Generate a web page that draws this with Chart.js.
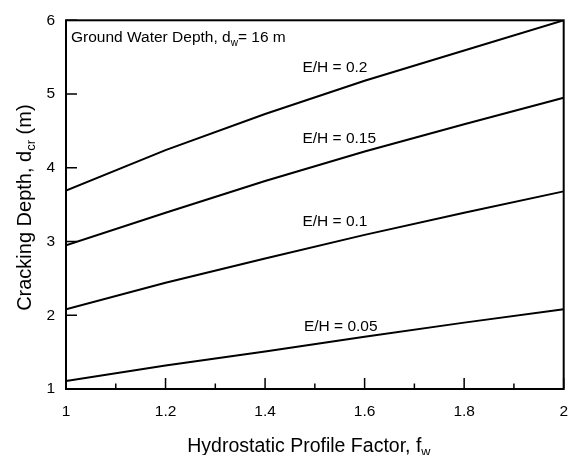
<!DOCTYPE html>
<html>
<head>
<meta charset="utf-8">
<script src="https://cdn.jsdelivr.net/npm/chart.js@4.4.0/dist/chart.umd.min.js"></script>
<style>
  html, body { margin: 0; padding: 0; background: #fff; }
  #wrap { width: 581px; height: 455px; position: relative; }
</style>
</head>
<body>
<div id="wrap"><canvas id="chart"></canvas></div>
<script>
// Hydrostatic profile factor (x) vs cracking depth (m), one curve per E/H
const fw = [1, 1.2, 1.4, 1.6, 1.8, 2];
const ratios = ['0.2', '0.15', '0.1', '0.05'];
const depth020 = [3.69, 4.24, 4.73, 5.18, 5.59, 6.0];
const depth015 = [2.95, 3.39, 3.82, 4.22, 4.59, 4.95];
const depth010 = [2.08, 2.44, 2.77, 3.09, 3.39, 3.68];
const depth005 = [1.11, 1.32, 1.51, 1.71, 1.90, 2.08];

// Tick values
const xTicks = [1, 1.2, 1.4, 1.6, 1.8, 2];
const xMinorTicks = [1.1, 1.3, 1.5, 1.7, 1.9];
const yTicks = [1, 2, 3, 4, 5, 6];

// Curve label anchors (data units, left/baseline)
const labelX = [1.475, 1.475, 1.475, 1.478];
const labelY = [5.295, 4.33, 3.215, 1.79];

const FONT = "'Liberation Sans', Arial, Helvetica, sans-serif";
Chart.defaults.font.family = FONT;
Chart.defaults.color = '#000';

// Text with subscripts: parts = [[text, isSub], ...]
function richWidth(ctx, parts, size) {
  let w = 0;
  parts.forEach(([t, sub]) => {
    ctx.font = (sub ? size * 0.65 : size) + 'px ' + FONT;
    w += ctx.measureText(t).width;
  });
  return w;
}

function drawRich(ctx, parts, x, y, size) {
  let cx = x;
  parts.forEach(([t, sub]) => {
    const s = sub ? size * 0.65 : size;
    ctx.font = s + 'px ' + FONT;
    ctx.fillText(t, cx, sub ? y + size * 0.22 : y);
    cx += ctx.measureText(t).width;
  });
}

// Frame, inward ticks, titles and curve labels
const framePlugin = {
  id: 'frame',
  afterDraw(chart) {
    const { ctx, chartArea: a, scales: { x, y } } = chart;
    ctx.save();
    ctx.strokeStyle = '#000';
    ctx.lineWidth = 2;
    ctx.strokeRect(a.left, a.top, a.right - a.left, a.bottom - a.top);

    ctx.lineWidth = 1.5;
    ctx.beginPath();
    xTicks.forEach(v => {
      const px = x.getPixelForValue(v);
      ctx.moveTo(px, a.bottom);
      ctx.lineTo(px, a.bottom - 11);
    });
    xMinorTicks.forEach(v => {
      const px = x.getPixelForValue(v);
      ctx.moveTo(px, a.bottom);
      ctx.lineTo(px, a.bottom - 5.5);
    });
    yTicks.forEach(v => {
      const py = y.getPixelForValue(v);
      ctx.moveTo(a.left, py);
      ctx.lineTo(a.left + 11, py);
    });
    ctx.stroke();

    ctx.fillStyle = '#000';
    ctx.textAlign = 'left';
    ctx.textBaseline = 'alphabetic';

    // x axis title
    const xt = [['Hydrostatic Profile Factor, f', false], ['w', true]];
    const xw = richWidth(ctx, xt, 19.5);
    drawRich(ctx, xt, (a.left + a.right) / 2 - 6 - xw / 2, 452, 19.5);

    // y axis title
    const yt = [['Cracking Depth, d', false], ['cr', true], [' (m)', false]];
    const yw = richWidth(ctx, yt, 20);
    ctx.save();
    ctx.translate(31, (a.top + a.bottom) / 2 + 3);
    ctx.rotate(-Math.PI / 2);
    drawRich(ctx, yt, -yw / 2, 0, 20);
    ctx.restore();

    // annotation
    drawRich(ctx, [['Ground Water Depth, d', false], ['w', true], ['= 16 m', false]],
      a.left + 5, a.top + 22, 15.5);

    // curve labels
    ratios.forEach((r, i) => {
      drawRich(ctx, [['E/H = ' + r, false]],
        x.getPixelForValue(labelX[i]), y.getPixelForValue(labelY[i]), 15.5);
    });
    ctx.restore();
  }
};

const curves = [depth020, depth015, depth010, depth005];

new Chart(document.getElementById('chart'), {
  type: 'line',
  data: {
    datasets: curves.map((d, i) => ({
      label: 'E/H = ' + ratios[i],
      data: fw.map((v, j) => ({ x: v, y: d[j] })),
      borderColor: '#000',
      borderWidth: 2,
      pointRadius: 0,
      tension: 0,
      fill: false
    }))
  },
  options: {
    responsive: true,
    maintainAspectRatio: false,
    animation: false,
    layout: { padding: { top: 15, right: 15, left: 0, bottom: 0 } },
    plugins: {
      legend: { display: false },
      tooltip: { enabled: false }
    },
    scales: {
      x: {
        type: 'linear',
        min: 1,
        max: 2,
        afterBuildTicks: s => { s.ticks = xTicks.map(v => ({ value: v })); },
        afterFit: s => { s.height = 66; },
        grid: { display: false, drawTicks: false },
        border: { display: false },
        ticks: {
          font: { size: 15.5 },
          padding: 13,
          maxRotation: 0,
          autoSkip: false,
          callback: v => String(v)
        }
      },
      y: {
        type: 'linear',
        min: 1,
        max: 6,
        afterBuildTicks: s => { s.ticks = yTicks.map(v => ({ value: v })); },
        afterFit: s => { s.width = 66; },
        grid: { display: false, drawTicks: false },
        border: { display: false },
        ticks: {
          font: { size: 15.5 },
          padding: 11,
          autoSkip: false,
          callback: v => String(v)
        }
      }
    }
  },
  plugins: [framePlugin]
});
</script>
</body>
</html>
